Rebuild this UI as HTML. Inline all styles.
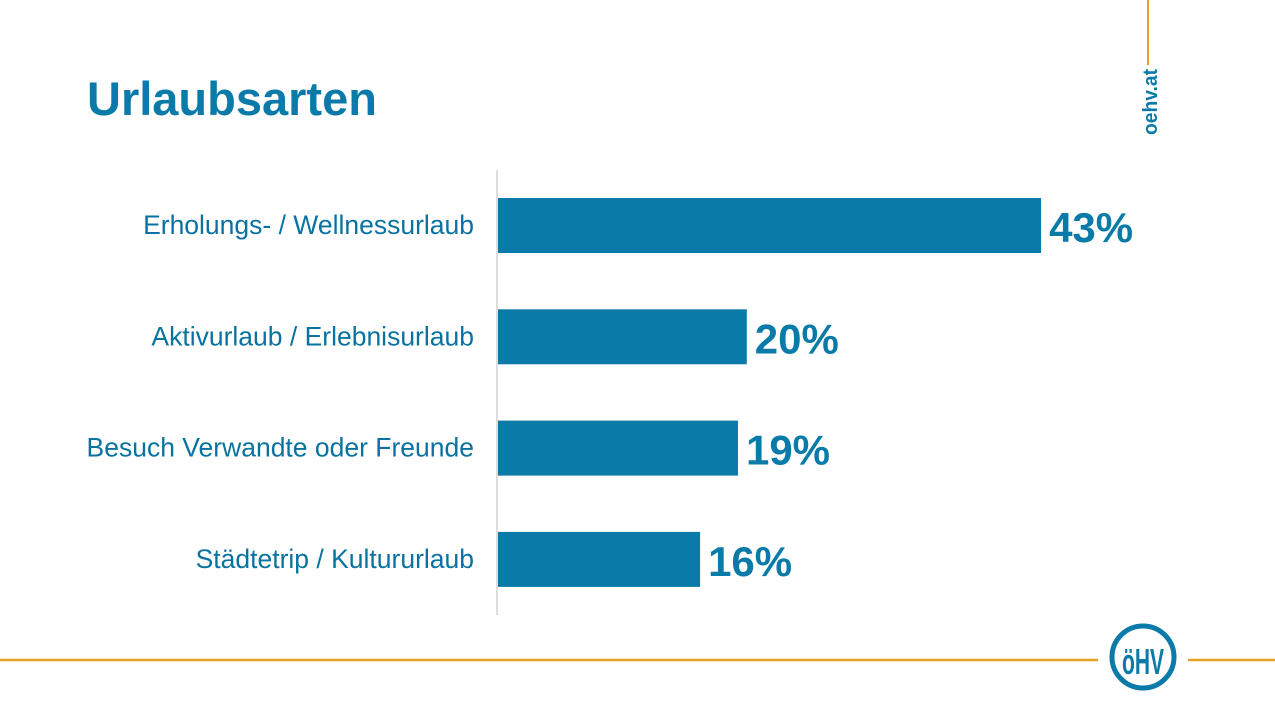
<!DOCTYPE html>
<html><head><meta charset="utf-8"><style>
body{margin:0;width:1275px;height:717px;background:#fff;overflow:hidden;font-family:"Liberation Sans",sans-serif}
</style></head><body>
<svg width="1275" height="717" xmlns="http://www.w3.org/2000/svg">
<text x="87" y="115" font-size="47" font-weight="bold" fill="#0a7ba8">Urlaubsarten</text>
<line x1="1148" y1="0" x2="1148" y2="65" stroke="#e5a323" stroke-width="2"/>
<text transform="translate(1157,135) rotate(-90)" font-size="20" font-weight="bold" fill="#0a7ba8" textLength="66" lengthAdjust="spacingAndGlyphs">oehv.at</text>
<line x1="0" y1="660" x2="1098" y2="660" stroke="#e5a323" stroke-width="2.5"/>
<line x1="1188" y1="660" x2="1275" y2="660" stroke="#e5a323" stroke-width="2.5"/>
<g>
<circle cx="1143" cy="657" r="31" fill="none" stroke="#0a7ba8" stroke-width="5"/>
<text x="1143" y="674" font-size="36" font-weight="bold" fill="#0a7ba8" text-anchor="middle" textLength="42" lengthAdjust="spacingAndGlyphs">öHV</text>
</g>
<line x1="497" y1="170" x2="497" y2="615" stroke="#bbb" stroke-width="1"/>
<g id="bars"></g>
</svg>
<script>
const categories=["Erholungs- / Wellnessurlaub","Aktivurlaub / Erlebnisurlaub","Besuch Verwandte oder Freunde","Städtetrip / Kultururlaub"];
const values=[43,19.7,19,16];
const labels=["43%","20%","19%","16%"];
const g=document.getElementById('bars');
const ns="http://www.w3.org/2000/svg";
const x=v=>498+v*12.63;
const y=i=>198+i*111.3;
categories.forEach((c,i)=>{
 const r=document.createElementNS(ns,'rect');
 r.setAttribute('x',498);r.setAttribute('y',y(i));r.setAttribute('width',x(values[i])-498);r.setAttribute('height',55);r.setAttribute('fill','#0a7ba8');
 
 
 g.appendChild(r);
 const t=document.createElementNS(ns,'text');
 t.setAttribute('x',474);t.setAttribute('y',y(i)+36);t.setAttribute('text-anchor','end');t.setAttribute('font-size','26.5');t.setAttribute('fill','#0a72a0');t.textContent=c;
 
 
 g.appendChild(t);
 const v=document.createElementNS(ns,'text');
 v.setAttribute('x',x(values[i])+8);v.setAttribute('y',y(i)+44);v.setAttribute('font-size','42');v.setAttribute('font-weight','bold');v.setAttribute('fill','#0a7ba8');v.textContent=labels[i];
 
 
 g.appendChild(v);
});
</script>
</body></html>
